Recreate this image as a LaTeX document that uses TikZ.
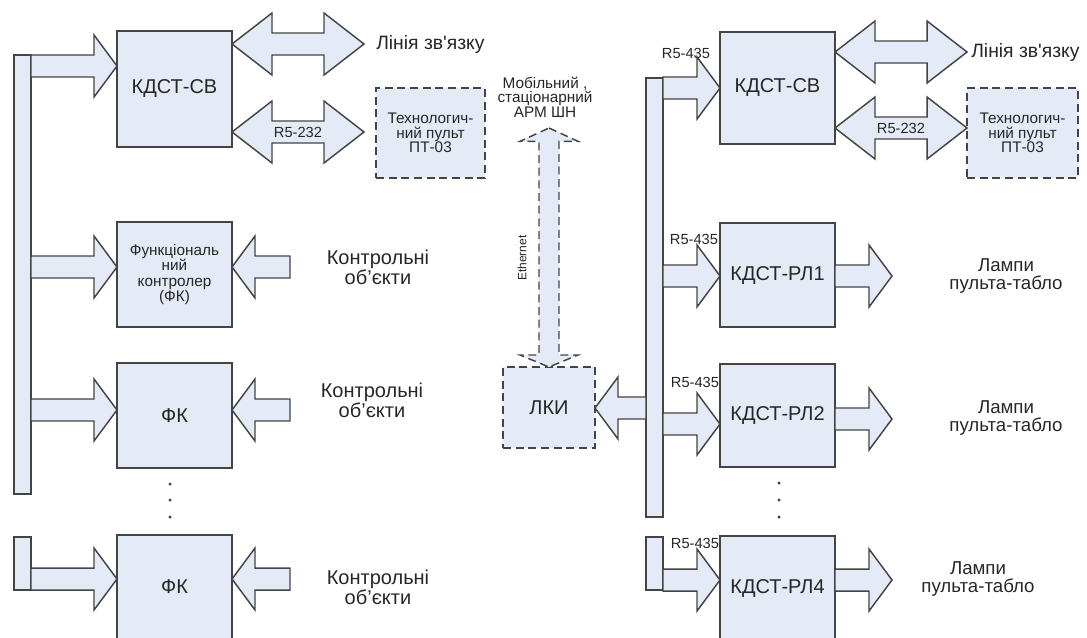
\documentclass[tikz,border=0pt]{standalone}
\usepackage{fontspec}
\setmainfont{Liberation Sans}
\usetikzlibrary{calc}

\def\unitpx{0.75pt}
\def\sh{8.25pt}  % shaft half width
\def\hh{23.25pt} % head half width
\def\hl{17.25pt} % head length, single arrows
\def\dhl{30pt}   % head length, double arrows

\definecolor{boxfill}{RGB}{229,235,246}
\definecolor{linec}{RGB}{68,68,68}

\tikzset{
  blk/.style={draw=linec, fill=boxfill, line width=1.1pt, line join=miter},
  box/.style={blk, rectangle, minimum width=86.25pt, inner sep=2pt, outer sep=0pt,
    align=center, anchor=north west, text=black!85, font=\fontsize{15}{16}\selectfont},
  dbox/.style={box, dash pattern=on 6pt off 3.5pt},
  bus/.style={blk, rectangle, minimum width=12.75pt, inner sep=0pt, outer sep=0pt, anchor=north west},
  lbl/.style={align=center, inner sep=0pt, text=black!85, font=\fontsize{15}{15}\selectfont},
  smalltxt/.style={align=center, inner sep=0pt, text=black!85, font=\fontsize{11.5}{11}\selectfont},
  rstxt/.style={inner sep=0pt, text=black!85, font=\fontsize{11}{12}\selectfont},
}

% single block arrow, horizontal, from tail #2 to tip #3
\newcommand{\fatarrow}[3][]{%
  \draw[blk,#1] let \p1=(#2), \p2=(#3), \n1={sign(\x2-\x1)} in
    (\x1,{\y1+\sh}) -- ({\x2-(\n1)*\hl},{\y1+\sh}) -- ({\x2-(\n1)*\hl},{\y1+\hh})
    -- (\x2,\y1) -- ({\x2-(\n1)*\hl},{\y1-\hh}) -- ({\x2-(\n1)*\hl},{\y1-\sh})
    -- (\x1,{\y1-\sh}) -- cycle;}

% double block arrow, horizontal
\newcommand{\fatdarrow}[3][]{%
  \draw[blk,#1] let \p1=(#2), \p2=(#3), \n1={sign(\x2-\x1)} in
    (\x1,\y1) -- ({\x1+(\n1)*\dhl},{\y1+\hh}) -- ({\x1+(\n1)*\dhl},{\y1+\sh})
    -- ({\x2-(\n1)*\dhl},{\y1+\sh}) -- ({\x2-(\n1)*\dhl},{\y1+\hh}) -- (\x2,\y1)
    -- ({\x2-(\n1)*\dhl},{\y1-\hh}) -- ({\x2-(\n1)*\dhl},{\y1-\sh})
    -- ({\x1+(\n1)*\dhl},{\y1-\sh}) -- ({\x1+(\n1)*\dhl},{\y1-\hh}) -- cycle;}

\begin{document}
\begin{tikzpicture}[x=\unitpx, y=-\unitpx]
\useasboundingbox (0,0) rectangle (1087,637);

% ---- left group: buses and boxes ----
\node[bus, minimum height=329.25pt] (busL) at (14,55) {};
\node[bus, minimum height=39.75pt] (busLb) at (14,537) {};
\node[box, minimum height=87pt] (kdsL) at (117,31) {КДСТ-СВ};
\node[box, minimum height=78.75pt, font=\fontsize{11.5}{11.6}\selectfont] (fk1) at (117,222)
  {Функціональ\\ний\\контролер\\(ФК)};
\node[box, minimum height=78.75pt] (fk2) at (117,363) {ФК};
\node[box, minimum height=78pt] (fk3) at (117,535) {ФК};
\node[dbox, minimum width=81.75pt, minimum height=67.5pt, font=\fontsize{11.5}{11}\selectfont] (pultL) at (376,88)
  {Технологич-\\ний пульт\\ПТ-03};

% ---- left group: labels ----
\node[lbl, anchor=west, font=\fontsize{14.5}{15}\selectfont] (liniaL) at (376,44) {Лінія зв\textquotesingle язку};
\node[lbl] (ctrl1) at (378,267) {Контрольні\\об'єкти};
\node[lbl] (ctrl2) at (372,400) {Контрольні\\об'єкти};
\node[lbl] (ctrl3) at (378,587) {Контрольні\\об'єкти};
\coordinate (lvk) at (0,66);
\coordinate (lvl) at (0,44);
\coordinate (lvp) at (0,132);
\coordinate (in1) at (290,267);
\coordinate (in2) at (290,410);
\coordinate (in3) at (290,579);

% ---- left group: arrows ----
\fatarrow{busL.east |- lvk}{kdsL.west |- lvk}
\fatdarrow{kdsL.east |- lvl}{[xshift=-9pt]liniaL.west}
\fatdarrow{kdsL.east |- lvp}{[xshift=-9pt]pultL.west}
\node[rstxt] (rsL) at (298,132) {R5-232};
\fatarrow{busL.east |- in1}{fk1.west |- in1}
\fatarrow{in1}{fk1.east |- in1}
\fatarrow{busL.east |- in2}{fk2.west |- in2}
\fatarrow{in2}{fk2.east |- in2}
\fatarrow{busLb.east |- in3}{fk3.west |- in3}
\fatarrow{in3}{fk3.east |- in3}
\foreach \y in {484,500,517} \fill[linec] (170,\y) circle (1.3pt);

% ---- centre: LKI and Ethernet link ----
\node[dbox, minimum width=69pt, minimum height=60.75pt] (lki) at (503,367) {ЛКИ};
\node[smalltxt] (mob) at (545,97) {Мобільний ,\\стаціонарний\\АРМ ШН};
\coordinate (ethtop) at (549,128);
\draw[blk, dash pattern=on 6pt off 3.5pt] let \p1=(ethtop), \p2=(lki.north) in
  (\x1,\y1) -- ({\x1+21.75pt},{\y1-10pt}) -- ({\x1+7.5pt},{\y1-10pt}) -- ({\x1+7.5pt},{\y2+9pt})
  -- ({\x1+21.75pt},{\y2+9pt}) -- (\x1,\y2) -- ({\x1-21.75pt},{\y2+9pt}) -- ({\x1-7.5pt},{\y2+9pt})
  -- ({\x1-7.5pt},{\y1-10pt}) -- ({\x1-21.75pt},{\y1-10pt}) -- cycle;
\node[rstxt, rotate=90, font=\fontsize{9}{9}\selectfont] (eth) at (522,258) {Ethernet};

% ---- right group: buses and boxes ----
\node[bus, minimum height=329.25pt] (busR) at (646,78) {};
\node[bus, minimum height=39.75pt] (busRb) at (646,537) {};
\node[box, minimum height=84pt] (kdsR) at (720,32) {КДСТ-СВ};
\node[box, minimum height=78pt] (rl1) at (720,223) {КДСТ-РЛ1};
\node[box, minimum height=77.25pt] (rl2) at (720,364) {КДСТ-РЛ2};
\node[box, minimum height=78pt] (rl4) at (720,536) {КДСТ-РЛ4};
\node[dbox, minimum width=83.25pt, minimum height=67.5pt, font=\fontsize{11.5}{11}\selectfont] (pultR) at (967,88)
  {Технологич-\\ний пульт\\ПТ-03};

% ---- right group: labels ----
\node[lbl, anchor=west, font=\fontsize{14.5}{15}\selectfont] (liniaR) at (971,52) {Лінія зв\textquotesingle язку};
\node[lbl, font=\fontsize{14}{14}\selectfont] (lamp1) at (1006,276) {Лампи\\пульта-табло};
\node[lbl, font=\fontsize{14}{14}\selectfont] (lamp2) at (1006,418) {Лампи\\пульта-табло};
\node[lbl, font=\fontsize{14}{14}\selectfont] (lamp4) at (978,579) {Лампи\\пульта-табло};
\coordinate (rvk) at (0,88);
\coordinate (rvl) at (0,52);
\coordinate (rvp) at (0,128);
\coordinate (rvx) at (0,408);
\coordinate (rvr) at (0,424);
\coordinate (out1) at (892,276);
\coordinate (out2) at (892,419);
\coordinate (out4) at (892,580);
\node[rstxt] (rs1) at (686,53) {R5-435};
\node[rstxt] (rs2) at (694,239) {R5-435};
\node[rstxt] (rs3) at (695,382) {R5-435};
\node[rstxt] (rs4) at (695,543) {R5-435};

% ---- right group: arrows ----
\fatarrow{busR.east |- rvk}{kdsR.west |- rvk}
\fatdarrow{kdsR.east |- rvl}{[xshift=-3pt]liniaR.west}
\fatdarrow{kdsR.east |- rvp}{pultR.west}
\node[rstxt] (rsR) at (901,128) {R5-232};
\fatarrow{busR.east |- out1}{rl1.west |- out1}
\fatarrow{rl1.east |- out1}{out1}
\fatarrow{busR.west |- rvx}{lki.east |- rvx}
\fatarrow{busR.east |- rvr}{rl2.west |- rvr}
\fatarrow{rl2.east |- out2}{out2}
\fatarrow{busRb.east |- out4}{rl4.west |- out4}
\fatarrow{rl4.east |- out4}{out4}
\foreach \y in {483,500,517} \fill[linec] (779,\y) circle (1.3pt);

\end{tikzpicture}
\end{document}
